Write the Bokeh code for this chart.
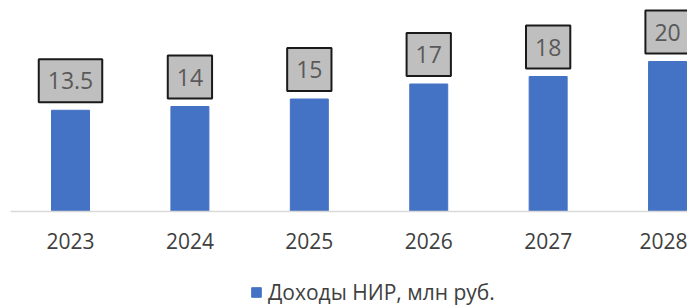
from bokeh.plotting import figure
from bokeh.models import ColumnDataSource, Label, Legend, LegendItem, FixedTicker, Range1d
from bokeh.embed import file_html
from bokeh.resources import INLINE

categories = ["2023", "2024", "2025", "2026", "2027", "2028"]
values = [13.5, 14, 15, 17, 18, 20]
value_labels = ["13.5", "14", "15", "17", "18", "20"]
series_name = "Доходы НИР, млн руб."

xs = list(range(len(categories)))
src = ColumnDataSource(dict(x=xs, top=values, lbl=value_labels))

p = figure(width=687, height=306, output_backend="svg", toolbar_location=None,
           x_range=Range1d(-0.5025, 5.167), y_range=Range1d(-12.667, 27.067),
           min_border_left=10, min_border_right=0, min_border_top=8, min_border_bottom=0)
p.outline_line_color = None
p.xgrid.visible = False
p.ygrid.visible = False
p.yaxis.visible = False

r = p.vbar(x="x", top="top", width=0.318, bottom=0, source=src, color="#4472c4")

ax = p.xaxis[0]
ax.fixed_location = 0
ax.ticker = FixedTicker(ticks=xs)
ax.major_label_overrides = {i: c for i, c in enumerate(categories)}
ax.axis_line_color = "#d9d9d9"
ax.axis_line_width = 1.5
ax.major_tick_line_color = None
ax.minor_tick_line_color = None
ax.major_label_text_font = "Open Sans"
ax.major_label_text_font_size = "21px"
ax.major_label_text_color = "#404040"
ax.major_label_standoff = 16

for xi, v, t in zip(xs, values, value_labels):
    p.add_layout(Label(x=xi, y=v, text=t, text_align="center",
                       text_baseline="bottom", y_offset=8,
                       text_font="Open Sans", text_font_size="23px", text_color="#595959",
                       background_fill_color="#bfbfbf", border_line_color="#1a1a1a",
                       border_line_width=2, padding=(9, 13)))

legend = Legend(items=[LegendItem(label=series_name, renderers=[r])],
                location=(240, 0), orientation="horizontal",
                label_text_font="Open Sans", label_text_font_size="21px",
                label_text_color="#404040", glyph_width=12, glyph_height=12,
                border_line_color=None, background_fill_alpha=0,
                padding=0, margin=0, label_standoff=6)
p.add_layout(legend, "center")

open("out.html", "w").write(file_html(p, INLINE))
